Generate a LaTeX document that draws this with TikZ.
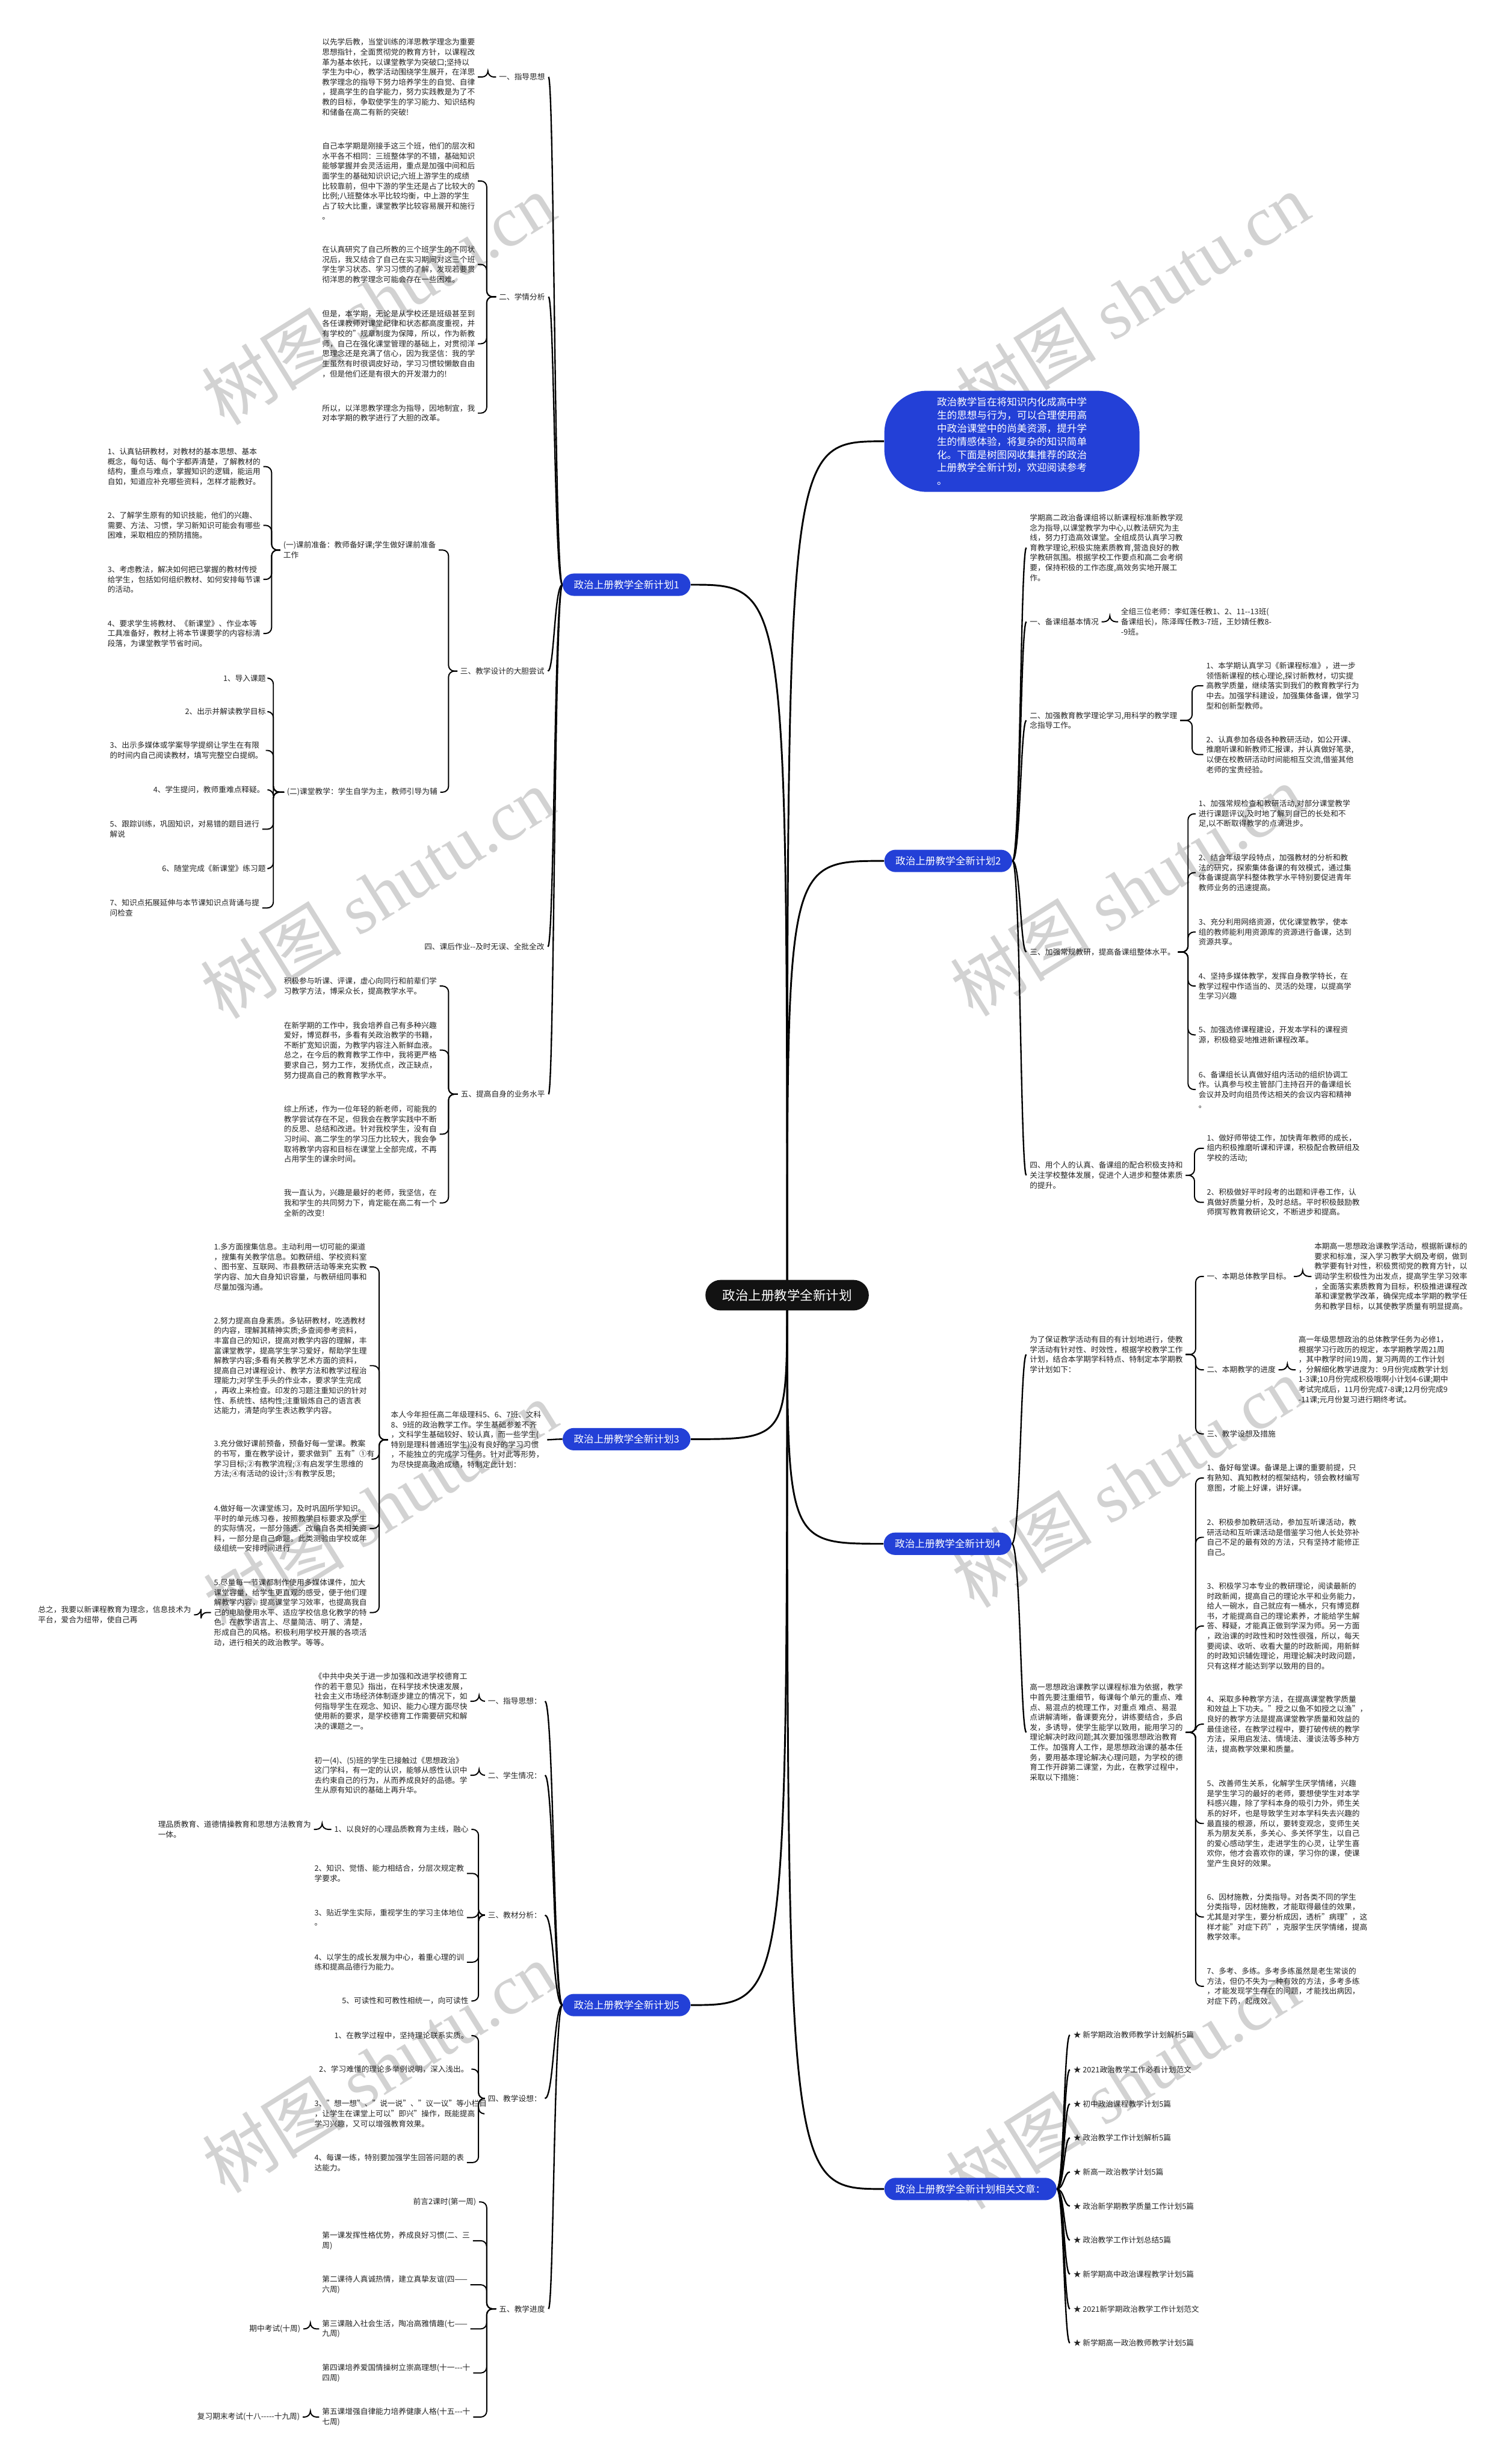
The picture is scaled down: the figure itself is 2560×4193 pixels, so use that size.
\documentclass[tikz,border=0pt]{standalone}
\usepackage{fontspec}
\setmainfont{Noto Sans CJK SC}
\newfontfamily\wmlatin{Liberation Serif}
\usetikzlibrary{calc,backgrounds}
\pgfdeclarelayer{wmlayer}
\pgfsetlayers{wmlayer,background,main}
\definecolor{brblue}{RGB}{35,64,215}
\definecolor{wmgray}{RGB}{210,210,210}
\definecolor{txtcol}{RGB}{35,35,35}
\tikzset{
  txt/.style={inner sep=0pt, outer sep=0pt, align=left, text=txtcol, font=\fontsize{6.5pt}{8.5pt}\selectfont},
  branch/.style={fill=brblue, text=white, rounded corners=9.5pt, minimum height=19pt, inner xsep=9.5pt, inner ysep=0pt, font=\fontsize{8.5pt}{10pt}\selectfont},
  rootnode/.style={fill=black!93, text=white, rounded corners=13pt, minimum height=26pt, inner xsep=14.5pt, inner ysep=0pt, font=\fontsize{11pt}{13pt}\selectfont},
  intronode/.style={fill=brblue, text=white, rounded corners=36pt, minimum width=217pt, minimum height=86pt, inner sep=0pt, align=left, font=\fontsize{8.5pt}{11.2pt}\selectfont},
  mainline/.style={draw=black, line width=1.5pt},
  lvlone/.style={draw=black, line width=1.2pt, shorten >=3pt},
  bracel/.style={draw=black, line width=1pt, rounded corners=5pt, shorten <=2.5pt, shorten >=2.5pt},
  wm/.style={text=wmgray, rotate=32, inner sep=0pt, font=\fontsize{60pt}{60pt}\selectfont},
}
\newcommand\bL[3]{\draw[bracel] (#1.west) -- (#1.west -| #3) |- (#2.east);}
\newcommand\bR[3]{\draw[bracel] (#1.east) -- (#1.east -| #3) |- (#2.west);}
\newcommand\cL[3]{\draw[lvlone] (#1.west) .. controls (#1.west -| #3) and (#2.east -| #3) .. (#2.east);}
\newcommand\cR[3]{\draw[lvlone] (#1.east) .. controls (#1.east -| #3) and (#2.west -| #3) .. (#2.west);}
\begin{document}
\begin{tikzpicture}[x=0.5pt,y=-0.5pt]
\useasboundingbox (0,0) rectangle (2560,4193);
\begin{pgfonlayer}{wmlayer}
\fill[white] (0,0) rectangle (2560,4193);
\foreach \px/\py/\n in {644/509/1,1926/508/2,642/1520/3,1917/1515/4,647/2563/5,1919/2522/6,645/3518/7,1910/3545/8}{
  \node[wm] (wm\n) at (\px,\py) {树图\hspace{0.25em}{\wmlatin shutu.cn}};
}
\end{pgfonlayer}

% ---------- coordinates of connector spines ----------
\coordinate (vP1) at (943,0);
\coordinate (vA1) at (830,0);
\coordinate (vA2) at (828,0);
\coordinate (vA3) at (763,0);
\coordinate (vA31) at (462,0);
\coordinate (vA32) at (465,0);
\coordinate (vA5) at (763,0);
\coordinate (vP2) at (1736,0);
\coordinate (vB1) at (1888,0);
\coordinate (vB2) at (2028,0);
\coordinate (vB3) at (2021,0);
\coordinate (vB4) at (2032,0);
\coordinate (vP3) at (941,0);
\coordinate (vC0) at (645,0);
\coordinate (vC5) at (342,0);
\coordinate (vP4) at (1736,0);
\coordinate (vDA) at (2034,0);
\coordinate (vDa1) at (2216,0);
\coordinate (vDa2) at (2190,0);
\coordinate (vDB) at (2034,0);
\coordinate (vP5) at (942,0);
\coordinate (vE1) at (815,0);
\coordinate (vE3) at (814,0);
\coordinate (vE31) at (548,0);
\coordinate (vE4) at (814,0);
\coordinate (vE5) at (828,0);
\coordinate (vE54) at (528,0);
\coordinate (vR) at (1810,0);

% ---------- root and branches ----------
\node[rootnode] (root) at (1339,2204) {政治上册教学全新计划};
\node[intronode, anchor=west] (intro) at (1504,751) {政治教学旨在将知识内化成高中学\\生的思想与行为，可以合理使用高\\中政治课堂中的尚美资源，提升学\\生的情感体验，将复杂的知识简单\\化。下面是树图网收集推荐的政治\\上册教学全新计划，欢迎阅读参考\\。};
\node[branch, anchor=east] (p1) at (1175,995) {政治上册教学全新计划1};
\node[branch, anchor=west] (p2) at (1504,1465) {政治上册教学全新计划2};
\node[branch, anchor=east] (p3) at (1175,2449) {政治上册教学全新计划3};
\node[branch, anchor=west] (p4) at (1503,2627) {政治上册教学全新计划4};
\node[branch, anchor=east] (p5) at (1175,3412) {政治上册教学全新计划5};
\node[branch, anchor=west] (rel) at (1504,3725) {政治上册教学全新计划相关文章：};

% ---------- plan 1 ----------
\node[txt, anchor=east] (a1) at (927,131) {一、指导思想};
\node[txt, anchor=east] (a2) at (927,505) {二、学情分析};
\node[txt, anchor=east] (a3) at (926,1142) {三、教学设计的大胆尝试};
\node[txt, anchor=east] (a4) at (926,1611) {四、课后作业-{}-及时无误、全批全改};
\node[txt, anchor=east] (a5) at (927,1862) {五、提高自身的业务水平};

\node[txt, anchor=west] (pA) at (548,131) {以先学后教，当堂训练的洋思教学理念为重要\\思想指针，全面贯彻党的教育方针，以课程改\\革为基本依托，以课堂教学为突破口;坚持以\\学生为中心，教学活动围绕学生展开，在洋思\\教学理念的指导下努力培养学生的自觉、自律\\，提高学生的自学能力，努力实践教是为了不\\教的目标，争取使学生的学习能力、知识结构\\和储备在高二有新的突破!};
\node[txt, anchor=west] (pB) at (548,308) {自己本学期是刚接手这三个班，他们的层次和\\水平各不相同：三班整体学的不错，基础知识\\能够掌握并会灵活运用，重点是加强中间和后\\面学生的基础知识识记;六班上游学生的成绩\\比较靠前，但中下游的学生还是占了比较大的\\比例;八班整体水平比较均衡，中上游的学生\\占了较大比重，课堂教学比较容易展开和施行\\。};
\node[txt, anchor=west] (pC) at (548,450) {在认真研究了自己所教的三个班学生的不同状\\况后，我又结合了自己在实习期间对这三个班\\学生学习状态、学习习惯的了解，发现若要贯\\彻洋思的教学理念可能会存在一些困难。};
\node[txt, anchor=west] (pD) at (548,585) {但是，本学期，无论是从学校还是班级甚至到\\各任课教师对课堂纪律和状态都高度重视，并\\有学校的"规章制度为保障，所以，作为新教\\师，自己在强化课堂管理的基础上，对贯彻洋\\思理念还是充满了信心，因为我坚信：我的学\\生虽然有时很调皮好动，学习习惯较懒散自由\\，但是他们还是有很大的开发潜力的!};
\node[txt, anchor=west] (pE) at (548,703) {所以，以洋思教学理念为指导，因地制宜，我\\对本学期的教学进行了大胆的改革。};

\node[txt, anchor=west] (g1) at (482,936) {(一)课前准备：教师备好课;学生做好课前准备\\工作};
\node[txt, anchor=east] (g2) at (744,1348) {(二)课堂教学：学生自学为主，教师引导为辅};

\node[txt, anchor=west] (i1) at (183,794) {1、认真钻研教材，对教材的基本思想、基本\\概念，每句话、每个字都弄清楚，了解教材的\\结构，重点与难点，掌握知识的逻辑，能运用\\自如，知道应补充哪些资料，怎样才能教好。};
\node[txt, anchor=west] (i2) at (183,894) {2、了解学生原有的知识技能，他们的兴趣、\\需要、方法、习惯，学习新知识可能会有哪些\\困难，采取相应的预防措施。};
\node[txt, anchor=west] (i3) at (183,986) {3、考虑教法，解决如何把已掌握的教材传授\\给学生，包括如何组织教材、如何安排每节课\\的活动。};
\node[txt, anchor=west] (i4) at (183,1078) {4、要求学生将教材、《新课堂》、作业本等\\工具准备好，教材上将本节课要学的内容标清\\段落，为课堂教学节省时间。};

\node[txt, anchor=east] (j1) at (452,1154) {1、导入课题};
\node[txt, anchor=east] (j2) at (452,1211) {2、出示并解读教学目标};
\node[txt, anchor=west] (j3) at (187,1277) {3、出示多媒体或学案导学提纲让学生在有限\\的时间内自己阅读教材，填写完整空白提纲。};
\node[txt, anchor=east] (j4) at (450,1344) {4、学生提问，教师重难点释疑。};
\node[txt, anchor=west] (j5) at (187,1411) {5、跟踪训练，巩固知识，对易错的题目进行\\解说};
\node[txt, anchor=east] (j6) at (452,1478) {6、随堂完成《新课堂》练习题};
\node[txt, anchor=west] (j7) at (187,1545) {7、知识点拓展延伸与本节课知识点背诵与提\\问检查};

\node[txt, anchor=west] (k1) at (483,1678) {积极参与听课、评课，虚心向同行和前辈们学\\习教学方法，博采众长，提高教学水平。};
\node[txt, anchor=west] (k2) at (483,1787) {在新学期的工作中，我会培养自己有多种兴趣\\爱好，博览群书，多看有关政治教学的书籍，\\不断扩宽知识面，为教学内容注入新鲜血液。\\总之，在今后的教育教学工作中，我将更严格\\要求自己，努力工作，发扬优点，改正缺点，\\努力提高自己的教育教学水平。};
\node[txt, anchor=west] (k3) at (483,1930) {综上所述，作为一位年轻的新老师，可能我的\\教学尝试存在不足，但我会在教学实践中不断\\的反思、总结和改进。针对我校学生，没有自\\习时间、高二学生的学习压力比较大，我会争\\取将教学内容和目标在课堂上全部完成，不再\\占用学生的课余时间。};
\node[txt, anchor=west] (k4) at (483,2047) {我一直认为，兴趣是最好的老师，我坚信，在\\我和学生的共同努力下，肯定能在高二有一个\\全新的改变!};

% ---------- plan 2 ----------
\node[txt, anchor=west] (b0) at (1752,932) {学期高二政治备课组将以新课程标准新教学观\\念为指导,以课堂教学为中心,以教法研究为主\\线，努力打造高效课堂。全组成员认真学习教\\育教学理论,积极实施素质教育,营造良好的教\\学教研氛围。根据学校工作要点和高二会考纲\\要，保持积极的工作态度,高效务实地开展工\\作。};
\node[txt, anchor=west] (b1) at (1752,1058) {一、备课组基本情况};
\node[txt, anchor=west] (b1a) at (1907,1058) {全组三位老师：李虹莲任教1、2、11-{}-13班(\\备课组长)，陈泽晖任教3-7班，王妙婧任教8-\\-9班。};
\node[txt, anchor=west] (b2) at (1752,1226) {二、加强教育教学理论学习,用科学的教学理\\念指导工作。};
\node[txt, anchor=west] (b2a) at (2052,1167) {1、本学期认真学习《新课程标准》，进一步\\领悟新课程的核心理论,探讨新教材，切实提\\高教学质量，继续落实到我们的教育教学行为\\中去。加强学科建设，加强集体备课，做学习\\型和创新型教师。};
\node[txt, anchor=west] (b2b) at (2052,1284) {2、认真参加各级各种教研活动，如公开课、\\推磨听课和新教师汇报课，并认真做好笔录,\\以便在校教研活动时间能相互交流,借鉴其他\\老师的宝贵经验。};
\node[txt, anchor=west] (b3) at (1752,1620) {三、加强常规教研，提高备课组整体水平。};
\node[txt, anchor=west] (b3a) at (2039,1385) {1、加强常规检查和教研活动,对部分课堂教学\\进行课题评议,及时地了解到自己的长处和不\\足,以不断取得教学的点滴进步。};
\node[txt, anchor=west] (b3b) at (2039,1485) {2、结合年级学段特点，加强教材的分析和教\\法的研究，探索集体备课的有效模式，通过集\\体备课提高学科整体教学水平特别要促进青年\\教师业务的迅速提高。};
\node[txt, anchor=west] (b3c) at (2039,1586) {3、充分利用网络资源，优化课堂教学，使本\\组的教师能利用资源库的资源进行备课，达到\\资源共享。};
\node[txt, anchor=west] (b3d) at (2039,1678) {4、坚持多媒体教学，发挥自身教学特长，在\\教学过程中作适当的、灵活的处理，以提高学\\生学习兴趣};
\node[txt, anchor=west] (b3e) at (2039,1761) {5、加强选修课程建设，开发本学科的课程资\\源，积极稳妥地推进新课程改革。};
\node[txt, anchor=west] (b3f) at (2039,1854) {6、备课组长认真做好组内活动的组织协调工\\作。认真参与校主管部门主持召开的备课组长\\会议并及时向组员传达相关的会议内容和精神\\。};
\node[txt, anchor=west] (b4) at (1752,2000) {四、用个人的认真、备课组的配合积极支持和\\关注学校整体发展，促进个人进步和整体素质\\的提升。};
\node[txt, anchor=west] (b4a) at (2053,1954) {1、做好师带徒工作，加快青年教师的成长，\\组内积极推磨听课和评课，积极配合教研组及\\学校的活动;};
\node[txt, anchor=west] (b4b) at (2053,2046) {2、积极做好平时段考的出题和评卷工作，认\\真做好质量分析，及时总结。平时积极鼓励教\\师撰写教育教研论文，不断进步和提高。};

% ---------- plan 3 ----------
\node[txt, anchor=west] (c0) at (665,2450) {本人今年担任高二年级理科5、6、7班、文科\\8、9班的政治教学工作。学生基础参差不齐\\，文科学生基础较好、较认真，而一些学生(\\特别是理科普通班学生)没有良好的学习习惯\\，不能独立的完成学习任务。针对此等形势，\\为尽快提高政治成绩，特制定此计划：};
\node[txt, anchor=west] (c1) at (364,2156) {1.多方面搜集信息。主动利用一切可能的渠道\\，搜集有关教学信息。如教研组、学校资料室\\、图书室、互联网、市县教研活动等来充实教\\学内容、加大自身知识容量，与教研组同事和\\尽量加强沟通。};
\node[txt, anchor=west] (c2) at (364,2324) {2.努力提高自身素质。多钻研教材，吃透教材\\的内容，理解其精神实质;多查阅参考资料，\\丰富自己的知识，提高对教学内容的理解，丰\\富课堂教学，提高学生学习爱好，帮助学生理\\解教学内容;多看有关教学艺术方面的资料，\\提高自己对课程设计、教学方法和教学过程治\\理能力;对学生手头的作业本，要求学生完成\\，再收上来检查。印发的习题注重知识的针对\\性、系统性、结构性;注重锻炼自己的语言表\\达能力，清楚向学生表达教学内容。};
\node[txt, anchor=west] (c3) at (364,2483) {3.充分做好课前预备，预备好每一堂课。教案\\的书写，重在教学设计，要求做到"五有"①有\\学习目标;②有教学流程;③有启发学生思维的\\方法;④有活动的设计;⑤有教学反思;};
\node[txt, anchor=west] (c4) at (364,2601) {4.做好每一次课堂练习，及时巩固所学知识。\\平时的单元练习卷，按照教学目标要求及学生\\的实际情况，一部分筛选、改编自各类相关资\\料，一部分是自己命题。此类测验由学校或年\\级组统一安排时间进行};
\node[txt, anchor=west] (c5) at (364,2744) {5.尽量每一节课都制作使用多媒体课件，加大\\课堂容量，给学生更直观的感受，便于他们理\\解教学内容，提高课堂学习效率，也提高我自\\己的电脑使用水平、适应学校信息化教学的特\\色。在教学语言上、尽量简洁、明了、清楚，\\形成自己的风格。积极利用学校开展的各项活\\动，进行相关的政治教学。等等。};
\node[txt, anchor=east] (cs) at (325,2748) {总之，我要以新课程教育为理念，信息技术为\\平台，爱合为纽带，使自己再};

% ---------- plan 4 ----------
\node[txt, anchor=west] (dA) at (1752,2305) {为了保证教学活动有目的有计划地进行，使教\\学活动有针对性、时效性，根据学校教学工作\\计划，结合本学期学科特点、特制定本学期教\\学计划如下：};
\node[txt, anchor=west] (da1) at (2053,2172) {一、本期总体教学目标。};
\node[txt, anchor=west] (da1p) at (2236,2172) {本期高一思想政治课教学活动，根据新课标的\\要求和标准，深入学习教学大纲及考纲，做到\\教学要有针对性，积极贯彻党的教育方针，以\\调动学生积极性为出发点，提高学生学习效率\\，全面落实素质教育为目标，积极推进课程改\\革和课堂教学改革，确保完成本学期的教学任\\务和教学目标，以其使教学质量有明显提高。};
\node[txt, anchor=west] (da2) at (2053,2331) {二、本期教学的进度};
\node[txt, anchor=west] (da2p) at (2209,2331) {高一年级思想政治的总体教学任务为必修1，\\根据学习行政历的规定，本学期教学周21周\\，其中教学时间19周，复习两周的工作计划\\，分解细化教学进度为：9月份完成教学计划\\1-3课;10月份完成积极哦啊小计划4-6课;期中\\考试完成后，11月份完成7-8课;12月份完成9\\-11课;元月份复习进行期终考试。};
\node[txt, anchor=west] (da3) at (2053,2440) {三、教学设想及措施};
\node[txt, anchor=west] (dB) at (1752,2948) {高一思想政治课教学以课程标准为依据，教学\\中首先要注重细节，每课每个单元的重点、难\\点、易混点的梳理工作，对重点 难点、易混\\点讲解清晰，备课要充分，讲练要结合，多启\\发，多诱导，使学生能学以致用，能用学习的\\理论解决时政问题;其次要加强思想政治教育\\工作。加强育人工作，是思想政治课的基本任\\务，要用基本理论解决心理问题，为学校的德\\育工作开辟第二课堂，为此，在教学过程中，\\采取以下措施：};
\node[txt, anchor=west] (db1) at (2053,2515) {1、备好每堂课。备课是上课的重要前提，只\\有熟知、真知教材的框架结构，领会教材编写\\意图，才能上好课，讲好课。};
\node[txt, anchor=west] (db2) at (2053,2616) {2、积极参加教研活动，参加互听课活动，教\\研活动和互听课活动是借鉴学习他人长处弥补\\自己不足的最有效的方法，只有坚持才能修正\\自己。};
\node[txt, anchor=west] (db3) at (2053,2767) {3、积极学习本专业的教研理论，阅读最新的\\时政新闻，提高自己的理论水平和业务能力，\\给人一碗水，自己就应有一桶水，只有博览群\\书，才能提高自己的理论素养，才能给学生解\\答、释疑，才能真正做到学深为师。另一方面\\，政治课的时政性和时效性很强，所以，每天\\要阅读、收听、收看大量的时政新闻，用新鲜\\的时政知识辅佐理论，用理论解决时政问题，\\只有这样才能达到学以致用的目的。};
\node[txt, anchor=west] (db4) at (2053,2934) {4、采取多种教学方法，在提高课堂教学质量\\和效益上下功夫。"授之以鱼不如授之以渔"，\\良好的教学方法是提高课堂教学质量和效益的\\最佳途径，在教学过程中，要打破传统的教学\\方法，采用启发法、情境法、漫谈法等多种方\\法，提高教学效果和质量。};
\node[txt, anchor=west] (db5) at (2053,3103) {5、改善师生关系，化解学生厌学情绪，兴趣\\是学生学习的最好的老师，要想使学生对本学\\科感兴趣，除了学科本身的吸引力外，师生关\\系的好坏，也是导致学生对本学科失去兴趣的\\最直接的根源，所以，要转变观念，变师生关\\系为朋友关系，多关心、多关怀学生，以自己\\的爱心感动学生，走进学生的心灵，让学生喜\\欢你，他才会喜欢你的课，学习你的课，使课\\堂产生良好的效果。};
\node[txt, anchor=west] (db6) at (2053,3262) {6、因材施教，分类指导。对各类不同的学生\\分类指导，因材施教，才能取得最佳的效果，\\尤其是对学生，要分析成因，透析"病理"，这\\样才能"对症下药"，克服学生厌学情绪，提高\\教学效率。};
\node[txt, anchor=west] (db7) at (2053,3380) {7、多考、多练。多考多练虽然是老生常谈的\\方法，但仍不失为一种有效的方法，多考多练\\，才能发现学生存在的问题，才能找出病因，\\对症下药，起成效。};

% ---------- plan 5 ----------
\node[txt, anchor=east] (e1) at (921,2895) {一、指导思想：};
\node[txt, anchor=west] (e1p) at (535,2895) {《中共中央关于进一步加强和改进学校德育工\\作的若干意见》指出，在科学技术快速发展，\\社会主义市场经济体制逐步建立的情况下，如\\何指导学生在观念、知识、能力心理方面尽快\\使用新的要求，是学校德育工作需要研究和解\\决的课题之一。};
\node[txt, anchor=east] (e2) at (921,3021) {二、学生情况：};
\node[txt, anchor=west] (e2p) at (535,3021) {初一(4)、(5)班的学生已接触过《思想政治》\\这门学科，有一定的认识，能够从感性认识中\\去约束自己的行为，从而养成良好的品德。学\\生从原有知识的基础上再升华。};
\node[txt, anchor=east] (e3) at (921,3259) {三、教材分析：};
\node[txt, anchor=east] (e31) at (797,3113) {1、以良好的心理品质教育为主线，融心};
\node[txt, anchor=east] (e31c) at (529,3113) {理品质教育、道德情操教育和思想方法教育为\\一体。};
\node[txt, anchor=west] (e32) at (535,3188) {2、知识、觉悟、能力相结合，分层次规定教\\学要求。};
\node[txt, anchor=west] (e33) at (535,3263) {3、贴近学生实际，重视学生的学习主体地位\\。};
\node[txt, anchor=west] (e34) at (535,3339) {4、以学生的成长发展为中心，着重心理的训\\练和提高品德行为能力。};
\node[txt, anchor=east] (e35) at (797,3405) {5、可读性和可教性相统一，向可读性};
\node[txt, anchor=east] (e4) at (921,3571) {四、教学设想：};
\node[txt, anchor=east] (e41) at (797,3464) {1、在教学过程中，坚持理论联系实质。};
\node[txt, anchor=east] (e42) at (797,3521) {2、学习难懂的理论多举例说明，深入浅出。};
\node[txt, anchor=west] (e43) at (535,3597) {3、"想一想"、"说一说"、"议一议"等小栏目\\，让学生在课堂上可以"即兴"操作，既能提高\\学习兴趣，又可以增强教育效果。};
\node[txt, anchor=west] (e44) at (535,3680) {4、每课一练，特别要加强学生回答问题的表\\达能力。};
\node[txt, anchor=east] (e5) at (927,3929) {五、教学进度};
\node[txt, anchor=east] (e51) at (810,3747) {前言2课时(第一周)};
\node[txt, anchor=west] (e52) at (548,3813) {第一课发挥性格优势，养成良好习惯(二、三\\周)};
\node[txt, anchor=west] (e53) at (548,3888) {第二课待人真诚热情，建立真挚友谊(四——\\六周)};
\node[txt, anchor=west] (e54) at (548,3963) {第三课融入社会生活，陶冶高雅情趣(七——\\九周)};
\node[txt, anchor=east] (e54c) at (511,3963) {期中考试(十周)};
\node[txt, anchor=west] (e55) at (548,4038) {第四课培养爱国情操树立崇高理想(十一-{}-{}-十\\四周)};
\node[txt, anchor=west] (e56) at (548,4113) {第五课增强自律能力培养健康人格(十五-{}-{}-十\\七周)};
\node[txt, anchor=east] (e56c) at (510,4113) {复习期末考试(十八-{}-{}-{}-{}-十九周)};

% ---------- related ----------
\node[txt, anchor=west] (r1) at (1826,3463) {★ 新学期政治教师教学计划解析5篇};
\node[txt, anchor=west] (r2) at (1826,3522) {★ 2021政治教学工作必看计划范文};
\node[txt, anchor=west] (r3) at (1826,3580) {★ 初中政治课程教学计划5篇};
\node[txt, anchor=west] (r4) at (1826,3638) {★ 政治教学工作计划解析5篇};
\node[txt, anchor=west] (r5) at (1826,3696) {★ 新高一政治教学计划5篇};
\node[txt, anchor=west] (r6) at (1826,3754) {★ 政治新学期教学质量工作计划5篇};
\node[txt, anchor=west] (r7) at (1826,3812) {★ 政治教学工作计划总结5篇};
\node[txt, anchor=west] (r8) at (1826,3870) {★ 新学期高中政治课程教学计划5篇};
\node[txt, anchor=west] (r9) at (1826,3929) {★ 2021新学期政治教学工作计划范文};
\node[txt, anchor=west] (r10) at (1826,3987) {★ 新学期高一政治教师教学计划5篇};

% ---------- connectors ----------
\begin{pgfonlayer}{background}
\foreach \t in {p1,p3,p5}{
  \draw[mainline] (root.center) .. controls (root.center |- \t.east) .. (\t.east);
}
\foreach \t in {intro,p2,p4,rel}{
  \draw[mainline] (root.center) .. controls (root.center |- \t.west) .. (\t.west);
}
\foreach \c in {a1,a2,a3,a4,a5}{\cL{p1}{\c}{vP1}}
\bL{a1}{pA}{vA1}
\foreach \c in {pB,pC,pD,pE}{\bL{a2}{\c}{vA2}}
\foreach \c in {g1,g2}{\bL{a3}{\c}{vA3}}
\foreach \c in {i1,i2,i3,i4}{\bL{g1}{\c}{vA31}}
\foreach \c in {j1,j2,j3,j4,j5,j6,j7}{\bL{g2}{\c}{vA32}}
\foreach \c in {k1,k2,k3,k4}{\bL{a5}{\c}{vA5}}

\foreach \c in {b0,b1,b2,b3,b4}{\cR{p2}{\c}{vP2}}
\bR{b1}{b1a}{vB1}
\foreach \c in {b2a,b2b}{\bR{b2}{\c}{vB2}}
\foreach \c in {b3a,b3b,b3c,b3d,b3e,b3f}{\bR{b3}{\c}{vB3}}
\foreach \c in {b4a,b4b}{\bR{b4}{\c}{vB4}}

\cL{p3}{c0}{vP3}
\foreach \c in {c1,c2,c3,c4,c5}{\bL{c0}{\c}{vC0}}
\bL{c5}{cs}{vC5}

\foreach \c in {dA,dB}{\cR{p4}{\c}{vP4}}
\foreach \c in {da1,da2,da3}{\bR{dA}{\c}{vDA}}
\bR{da1}{da1p}{vDa1}
\bR{da2}{da2p}{vDa2}
\foreach \c in {db1,db2,db3,db4,db5,db6,db7}{\bR{dB}{\c}{vDB}}

\foreach \c in {e1,e2,e3,e4,e5}{\cL{p5}{\c}{vP5}}
\bL{e1}{e1p}{vE1}
\bL{e2}{e2p}{vE1}
\foreach \c in {e31,e32,e33,e34,e35}{\bL{e3}{\c}{vE3}}
\bL{e31}{e31c}{vE31}
\foreach \c in {e41,e42,e43,e44}{\bL{e4}{\c}{vE4}}
\foreach \c in {e51,e52,e53,e54,e55,e56}{\bL{e5}{\c}{vE5}}
\bL{e54}{e54c}{vE54}
\bL{e56}{e56c}{vE54}

\foreach \c in {r1,r2,r3,r4,r5,r6,r7,r8,r9,r10}{\cR{rel}{\c}{vR}}
\end{pgfonlayer}
\end{tikzpicture}
\end{document}
